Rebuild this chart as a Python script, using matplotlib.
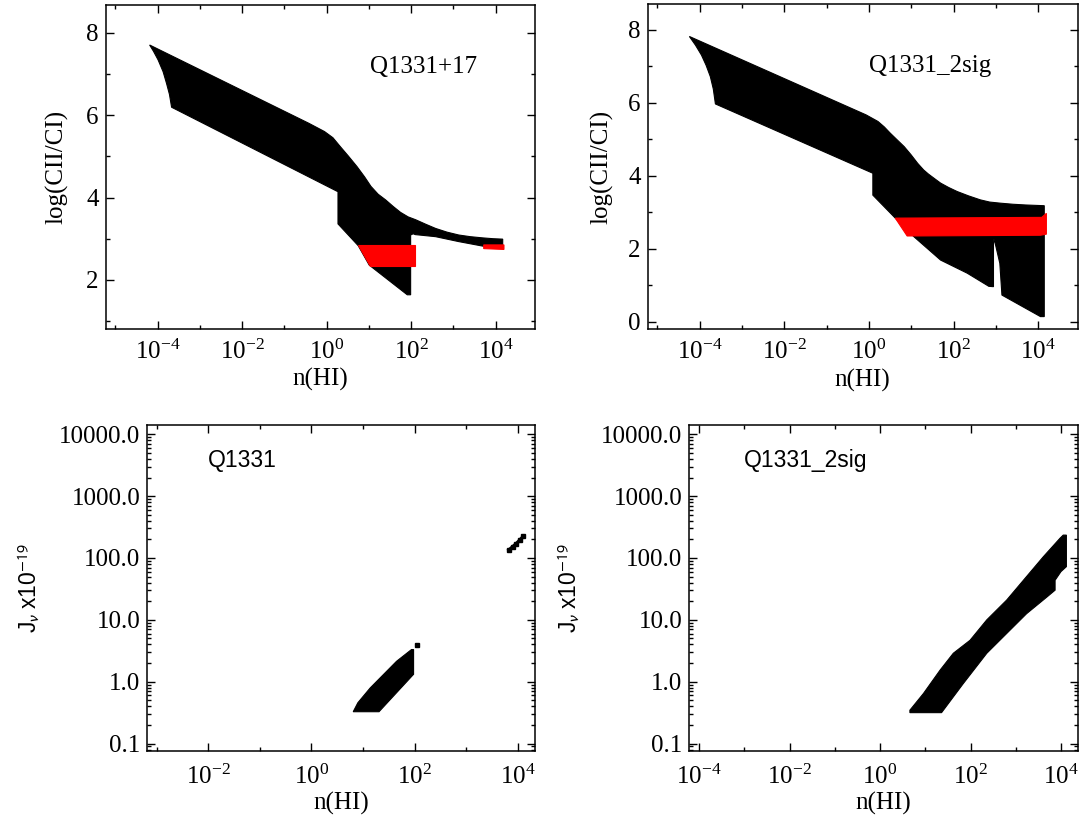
import numpy as np
import matplotlib.pyplot as plt
from matplotlib.ticker import FixedLocator, FuncFormatter, LogLocator, NullFormatter

plt.rcParams['font.family'] = 'Liberation Serif'
plt.rcParams['mathtext.fontset'] = 'stix'

# --- CII/CI model grid outlines: log10 n(HI) and log(CII/CI) ---
q17_black_logn = [-4.19, -0.42, -0.05, 0.15, 0.32, 0.52, 0.72, 0.90, 1.05, 1.22, 1.40, 1.58,
                  1.75, 1.93, 2.11, 2.35, 2.58, 2.85, 3.13, 3.40, 3.70, 3.95, 4.17,
                  4.17, 3.70, 3.13, 2.58, 2.10, 2.05, 1.99, 1.99, 1.91, 1.01, 0.75, 0.27, 0.27,
                  -3.67, -3.72, -3.79, -3.87, -3.99, -4.10]
q17_black_y = [7.70, 5.80, 5.60, 5.45, 5.24, 5.00, 4.75, 4.50, 4.27, 4.08, 3.94, 3.78,
               3.64, 3.53, 3.46, 3.35, 3.25, 3.16, 3.09, 3.05, 3.02, 3.00, 2.99,
               2.77, 2.82, 2.93, 3.05, 3.10, 3.12, 3.09, 1.64, 1.64, 2.36, 2.83, 3.36, 4.14,
               6.19, 6.50, 6.77, 7.05, 7.34, 7.55]
q17_red_logn = [0.74, 2.10, 2.10, 1.03]
q17_red_y = [2.84, 2.84, 2.34, 2.34]
q17_red_tail_logn = [3.72, 4.20, 4.20, 3.72]
q17_red_tail_y = [2.85, 2.85, 2.74, 2.76]

sig_black_logn = [-4.245, -0.07, 0.21, 0.36, 0.50, 0.66, 0.83, 0.99, 1.15, 1.29, 1.40, 1.55,
                  1.69, 1.88, 2.08, 2.35, 2.63, 2.85, 3.10, 3.40, 3.70, 4.14,
                  4.14, 4.05, 3.14, 3.09, 2.99, 2.95, 2.94, 2.94, 2.83, 2.32, 1.69, 1.06, 0.62,
                  0.09, 0.09, -3.63, -3.68, -3.75, -3.85, -3.96, -4.10]
sig_black_y = [7.82, 5.67, 5.49, 5.34, 5.17, 4.99, 4.80, 4.58, 4.34, 4.16, 4.05, 3.92,
               3.80, 3.68, 3.57, 3.45, 3.34, 3.28, 3.25, 3.22, 3.20, 3.18,
               0.14, 0.14, 0.73, 1.60, 2.10, 2.27, 2.15, 0.96, 0.97, 1.33, 1.69, 2.33, 2.84,
               3.47, 4.07, 5.97, 6.38, 6.72, 7.03, 7.31, 7.58]
sig_red_logn = [0.62, 4.08, 4.19, 4.19, 4.05, 0.90]
sig_red_y = [2.84, 2.86, 2.97, 2.40, 2.37, 2.35]

# --- allowed J_nu regions: log10 n(HI) and log10 J_nu ---
jq_logn = [0.81, 0.90, 1.14, 1.65, 1.94, 1.98, 1.98, 1.31]
jq_logj = [-0.485, -0.34, -0.10, 0.33, 0.52, 0.52, 0.12, -0.485]
jq_dot_logn = [2.04]
jq_dot_logj = [0.59]
jq_strip_logn = [3.83, 3.90, 3.97, 4.04, 4.11]
jq_strip_logj = [2.13, 2.18, 2.23, 2.29, 2.35]

js_logn = [0.66, 0.66, 0.96, 1.33, 1.62, 1.99, 2.36, 2.80, 3.17, 3.61, 3.98, 4.05, 4.12,
           4.12, 4.00, 3.87, 3.87, 3.69, 3.24, 2.80, 2.36, 1.84, 1.36]
js_logj = [-0.50, -0.46, -0.19, 0.19, 0.46, 0.67, 1.00, 1.32, 1.64, 2.02, 2.32, 2.37, 2.37,
           1.86, 1.78, 1.64, 1.48, 1.37, 1.10, 0.78, 0.46, -0.03, -0.50]

W, H = 1083, 823
fig = plt.figure(figsize=(W / 100, H / 100), dpi=100)


def add_box(left, top, right, bottom):
    return fig.add_axes([left / W, 1 - bottom / H, (right - left) / W, (bottom - top) / H])


def style(ax):
    for s in ax.spines.values():
        s.set_linewidth(1.1)
    ax.tick_params(which='both', direction='in', top=True, right=True, width=1.0)
    ax.tick_params(which='major', length=6)
    ax.tick_params(which='minor', length=3)


def decade_ticks(ax, majors, minors):
    ax.xaxis.set_major_locator(FixedLocator(majors))
    ax.xaxis.set_minor_locator(FixedLocator(minors))
    ax.xaxis.set_major_formatter(
        FuncFormatter(lambda v, p: r'$\mathdefault{10^{%d}}$' % round(np.log10(v))))
    ax.xaxis.set_minor_formatter(NullFormatter())


ax1 = add_box(105.7, 5, 534.8, 329)
ax2 = add_box(647.7, 4, 1077.7, 329)
ax3 = add_box(147.4, 425, 534.8, 751)
ax4 = add_box(689.2, 425, 1077.7, 751)

# top row: log(CII/CI) against density
for ax, bx, by, reds, ylim, name, tx in [
        (ax1, q17_black_logn, q17_black_y,
         [(q17_red_logn, q17_red_y), (q17_red_tail_logn, q17_red_tail_y)],
         (0.81, 8.67), 'Q1331+17', 0.616),
        (ax2, sig_black_logn, sig_black_y, [(sig_red_logn, sig_red_y)],
         (-0.2, 8.71), 'Q1331_2sig', 0.515)]:
    ax.set_xscale('log')
    ax.fill(10 ** np.array(bx), by, color='black', lw=0.8)
    for rx, ry in reds:
        ax.fill(10 ** np.array(rx), ry, color='red', lw=0.8)
    ax.set_xlim(10 ** -5.23, 10 ** 4.93)
    ax.set_ylim(*ylim)
    decade_ticks(ax, [1e-4, 1e-2, 1e0, 1e2, 1e4], [1e-5, 1e-3, 1e-1, 1e1, 1e3])
    ticks_y = [t for t in [0, 2, 4, 6, 8] if ylim[0] <= t <= ylim[1]]
    ax.yaxis.set_major_locator(FixedLocator(ticks_y))
    ax.yaxis.set_minor_locator(FixedLocator([1, 3, 5, 7]))
    style(ax)
    ax.tick_params(axis='x', labelsize=18, pad=8)
    ax.tick_params(axis='y', labelsize=18, pad=5)
    ax.set_xlabel('n(HI)', fontsize=18)
    ax.xaxis.set_label_coords(0.5, -0.157)
    ax.xaxis.label.set_va('center')
    ax.set_ylabel('log(CII/CI)', fontsize=18)
    ax.yaxis.label.set_va('center')
    ax.text(tx, 0.81, name, transform=ax.transAxes, fontsize=18, va='center')

ax1.yaxis.set_label_coords(-0.114, 0.5)
ax2.yaxis.set_label_coords(-0.107, 0.5)

# bottom row: J_nu against density
ax3.fill(10 ** np.array(jq_logn), 10 ** np.array(jq_logj), color='black', lw=0.8)
ax3.plot(10 ** np.array(jq_dot_logn), 10 ** np.array(jq_dot_logj), 's', color='black', ms=3.5)
ax3.plot(10 ** np.array(jq_strip_logn), 10 ** np.array(jq_strip_logj), 's-', color='black',
         ms=3.5, lw=2.5)
ax4.fill(10 ** np.array(js_logn), 10 ** np.array(js_logj), color='black', lw=0.8)

for ax, xl, majors, minors, name, tx, lx in [
        (ax3, (10 ** -3.18, 10 ** 4.33), [1e-2, 1e0, 1e2, 1e4], [1e-3, 1e-1, 1e1, 1e3],
         'Q1331', 0.156, -0.305),
        (ax4, (10 ** -4.22, 10 ** 4.37), [1e-4, 1e-2, 1e0, 1e2, 1e4], [1e-3, 1e-1, 1e1, 1e3],
         'Q1331_2sig', 0.141, -0.308)]:
    ax.set_xscale('log')
    ax.set_yscale('log')
    ax.set_xlim(*xl)
    ax.set_ylim(10 ** -1.12, 10 ** 4.15)
    decade_ticks(ax, majors, minors)
    ax.yaxis.set_major_locator(FixedLocator([0.1, 1, 10, 100, 1000, 10000]))
    ax.yaxis.set_minor_locator(LogLocator(base=10, subs=np.arange(2, 10)))
    ax.yaxis.set_major_formatter(FuncFormatter(lambda v, p: '%.1f' % v))
    ax.yaxis.set_minor_formatter(NullFormatter())
    style(ax)
    ax.tick_params(axis='x', labelsize=18, pad=10)
    ax.tick_params(axis='y', labelsize=18, pad=5)
    ax.set_xlabel('n(HI)', fontsize=18)
    ax.xaxis.set_label_coords(0.5, -0.16)
    ax.xaxis.label.set_va('center')
    ax.set_ylabel(r'J$_\nu$ x10$^{-19}$', fontsize=16.5, family='Liberation Sans',
                  math_fontfamily='stixsans')
    ax.yaxis.set_label_coords(lx, 0.5)
    ax.yaxis.label.set_va('center')
    ax.text(tx, 0.89, name, transform=ax.transAxes, fontsize=16.5, family='Liberation Sans',
            va='center')

fig.savefig('out.png', dpi=100)
